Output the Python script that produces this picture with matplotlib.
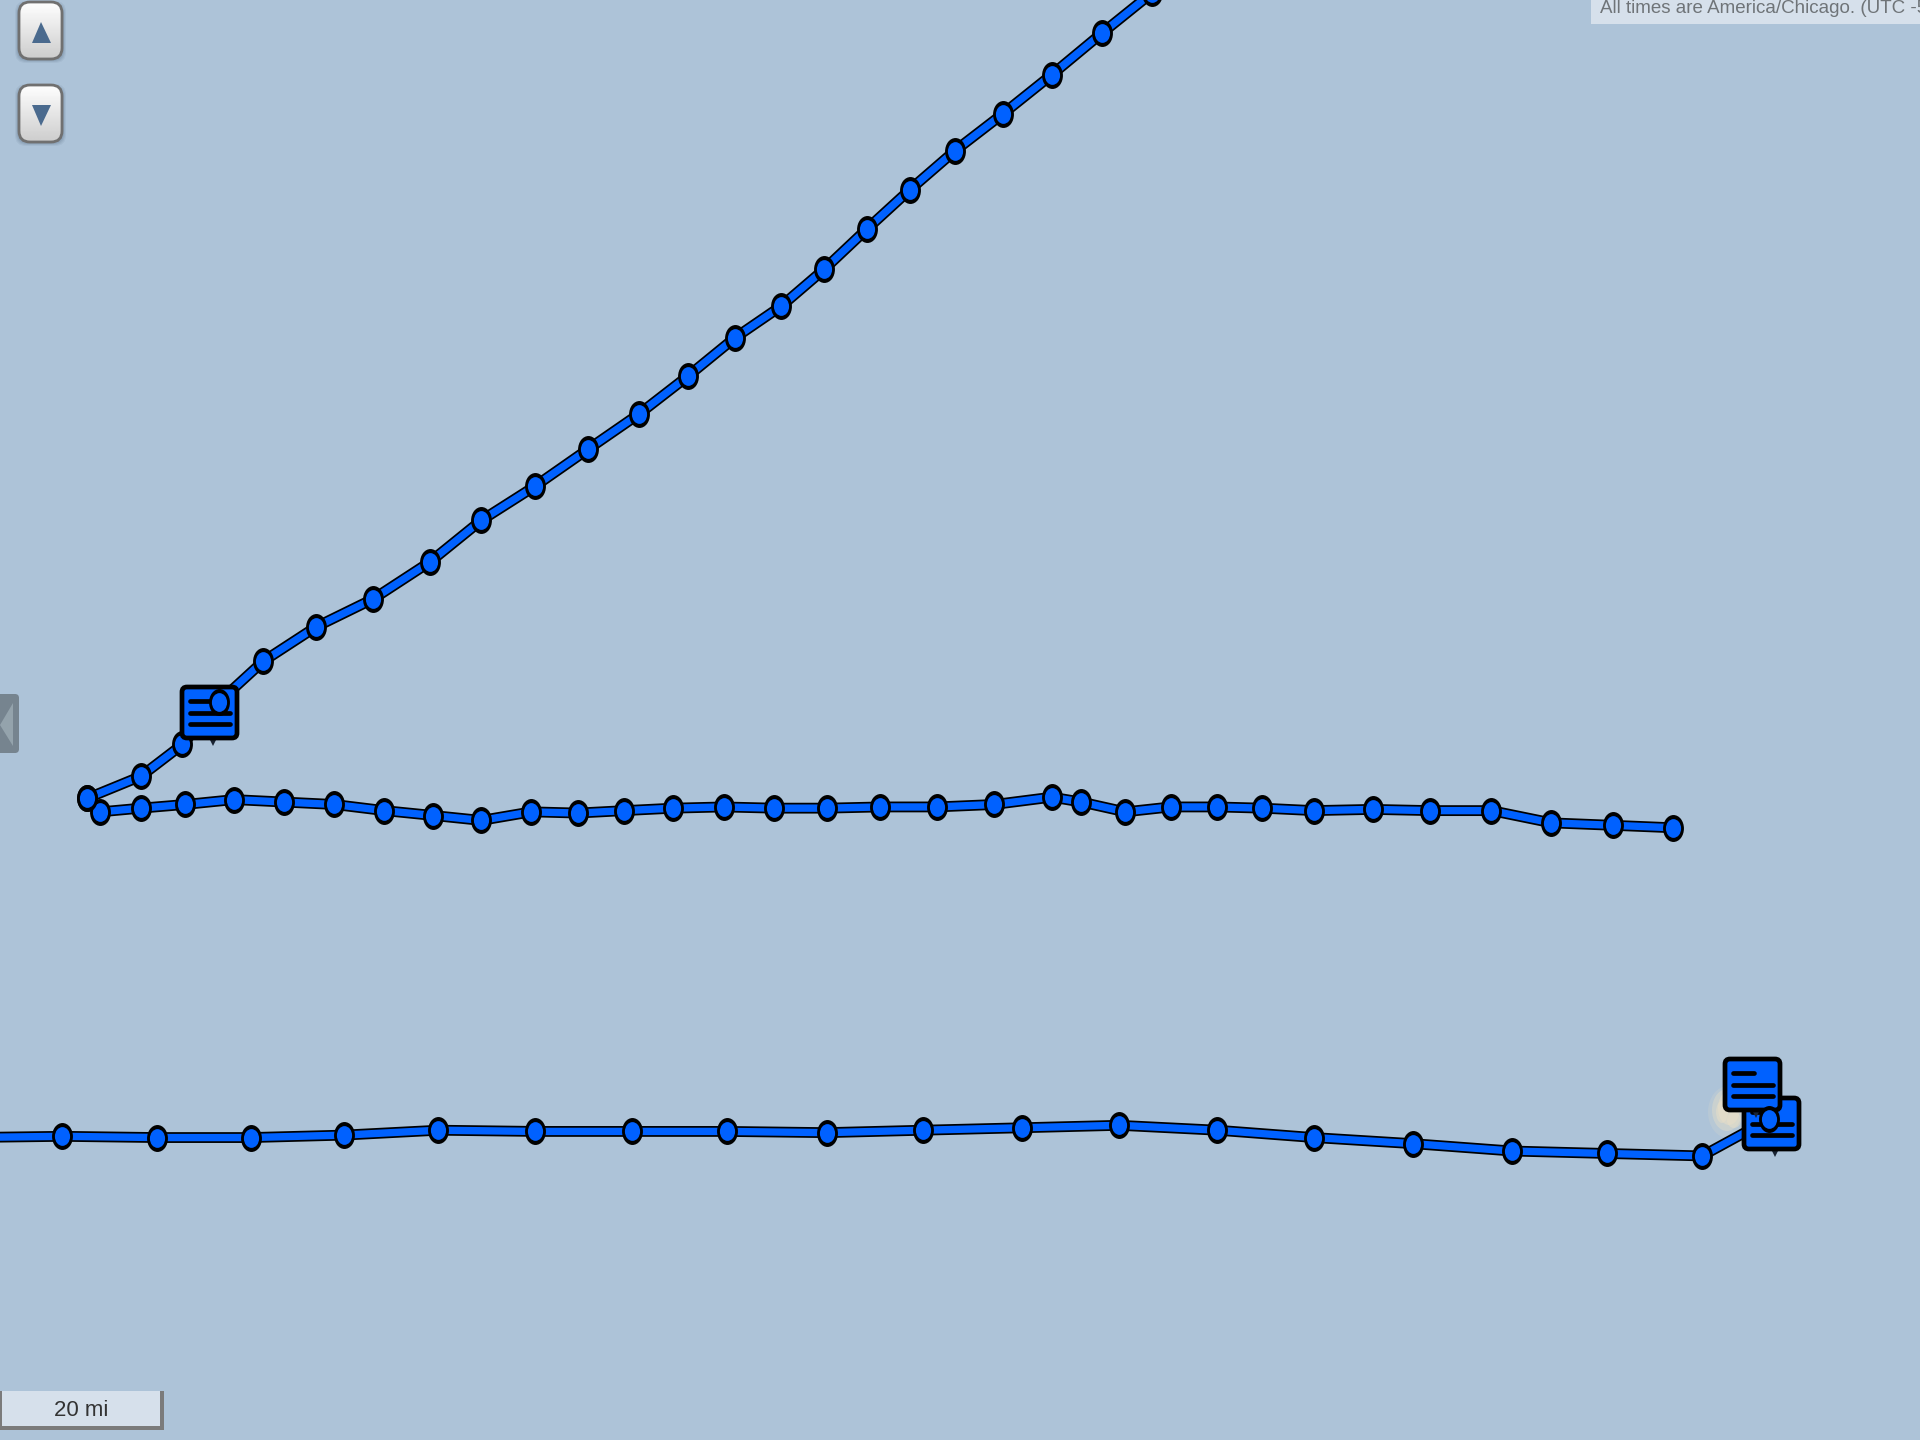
import numpy as np
import matplotlib
matplotlib.use("Agg")
import matplotlib.pyplot as plt
from matplotlib.patches import FancyBboxPatch, Polygon, Rectangle, Ellipse
from matplotlib.path import Path
from matplotlib.transforms import Affine2D

plt.rcParams['font.family'] = ['Liberation Sans', 'DejaVu Sans']

# Track positions (map units)
north_x = [71,115,149,179,215,258,305,351,393,437,480,522,562,600,638,673,708,743,780,819,859,900,941]
north_y = [652,634,608,573,540,512,489,459,425,397,367,338,307,276,250,220,187,155,123,93,61,27,-6]

middle_x = [82,115,151,191,232,273,314,354,393,434,472,510,550,591,632,675,719,765,812,859,883,919,956,994,1031,1073,1121,1168,1218,1267,1317,1366]
middle_y = [663,660,657,653,655,657,662,666,670,663,664,662,660,659,660,660,659,659,657,651,655,663,659,659,660,662,661,662,662,672,674,676]

south_x = [-27,51,128,205,281,358,437,516,594,675,754,835,914,994,1073,1154,1235,1312,1390,1445]
south_y = [929,928,929,929,927,923,924,924,924,925,923,921,919,923,929,934,940,942,944,914]

time_note = "All times are America/Chicago. (UTC -5:00)"
scale_label = "20 mi"

BG = "#ADC3D8"
BLUE = "#0061FF"
U = 1568 / 1920  # screen pixels to map units

fig = plt.figure(figsize=(19.2, 14.4), dpi=100, facecolor=BG)
ax = fig.add_axes([0, 0, 1, 1])
ax.axis("off")

# small island under the last marker
for (cx, cy, w, h, a) in [(1728, 1112, 40, 52, .18), (1727, 1110, 30, 42, .4), (1729, 1108, 22, 34, .55),
                          (1722, 1112, 12, 22, .5), (1734, 1120, 14, 16, .5)]:
    ax.add_patch(Ellipse((cx*U, cy*U), w*U, h*U, fc="#E8DFC8", ec="none", alpha=a, zorder=1))

outer = Path.unit_circle().transformed(Affine2D().scale(0.775, 1.0))
inner = Path.unit_circle().transformed(Affine2D().scale(0.81, 1.0))

def track(xs, ys, z):
    ax.plot(xs, ys, color="black", lw=7.8, solid_joinstyle="round", zorder=z)
    ax.plot(xs, ys, color=BLUE, lw=5.3, solid_joinstyle="round", zorder=z + 0.1)

def dots(xs, ys, z):
    ax.plot(xs, ys, ls="none", marker=outer, ms=19.4, mfc="black", mec="none", zorder=z)
    ax.plot(xs, ys, ls="none", marker=inner, ms=13.5, mfc=BLUE, mec="none", zorder=z)

def bubble(x0, y0, z):
    w, h = 59, 55
    ax.add_patch(Polygon([[(x0+29)*U, (y0+h-2)*U], [(x0+37)*U, (y0+h-2)*U], [(x0+33)*U, (y0+h+6)*U]],
                         fc="#1a2433", ec="none", zorder=z))
    ax.add_patch(FancyBboxPatch(((x0+6)*U, (y0+6)*U), (w-12)*U, (h-12)*U,
                                boxstyle=f"round,pad={4*U},rounding_size={5*U}",
                                fc=BLUE, ec="black", lw=3.4, zorder=z + 0.1))
    for yy, x2 in [(16, 31), (28, 50), (39, 50)]:
        ax.plot([(x0+10)*U, (x0+x2)*U], [(y0+yy)*U, (y0+yy)*U], color="black", lw=3.4,
                solid_capstyle="round", zorder=z + 0.2)

track(north_x, north_y, 2)
track(middle_x, middle_y, 2)
track(south_x, south_y, 2)
dots(north_x[:3], north_y[:3], 3)
dots(middle_x, middle_y, 3.1)
dots(north_x[:1], north_y[:1], 3.2)
dots(south_x[:-1], south_y[:-1], 3)
bubble(180, 685, 4)
bubble(1742, 1096, 4)
bubble(1723, 1057, 4.5)
dots(north_x[3:], north_y[3:], 5)
dots(south_x[-1:], south_y[-1:], 5)

# map buttons
grad = np.linspace(1, 0.80, 64).reshape(-1, 1)
for top in (1, 84):
    for grow, alpha in [(4, .10), (3, .14), (2, .18), (1, .24)]:
        ax.add_patch(FancyBboxPatch((21*U, (top+6)*U), 39*U, 50*U,
                                    boxstyle=f"round,pad={(2+grow)*U},rounding_size={11*U}",
                                    fc="#5d7188", ec="none", alpha=alpha, zorder=6))
    box = FancyBboxPatch((21*U, (top+3)*U), 39*U, 53*U, boxstyle=f"round,pad={2*U},rounding_size={11*U}",
                         fc="#eeeeee", ec="none", zorder=7)
    ax.add_patch(box)
    im = ax.imshow(grad, cmap="gray", vmin=0, vmax=1, extent=(17*U, 64*U, (top+59)*U, top*U),
                   aspect="auto", zorder=7.1)
    im.set_clip_path(box)
    ax.add_patch(FancyBboxPatch((21*U, (top+3)*U), 39*U, 53*U, boxstyle=f"round,pad={2*U},rounding_size={11*U}",
                                fc="none", ec="#707070", lw=2.0, zorder=7.2))
ax.add_patch(Polygon([[41*U, 22*U], [32*U, 43*U], [51*U, 43*U]], fc="#4A6A8E", ec="none", zorder=8))
ax.add_patch(Polygon([[32*U, 105*U], [51*U, 105*U], [41*U, 126*U]], fc="#4A6A8E", ec="none", zorder=8))
ax.set_xlim(0, 1568)
ax.set_ylim(1176, 0)

# collapse handle
ax.add_patch(FancyBboxPatch((-8*U, 696*U), 25*U, 55*U, boxstyle=f"round,pad={2*U},rounding_size={4*U}",
                            fc="#76848F", ec="none", zorder=6))
ax.add_patch(Polygon([[0, 725*U], [13*U, 703*U], [13*U, 746*U]], fc="#94A3AC", ec="none", zorder=7))

# time note
ax.add_patch(Rectangle((1591*U, -2), 340*U, 24*U + 2, fc="#D6E0EB", ec="none", zorder=6))
ax.text(1600*U, 8.5*U, time_note, fontsize=13.5, color="#6F7478", ha="left", va="center", zorder=7, clip_on=True)

# scale bar
ax.add_patch(Rectangle((0, 1391*U), 164*U, 39*U, fc="#7B7B7B", ec="none", zorder=6))
ax.add_patch(Rectangle((2*U, 1391*U), 158*U, 35*U, fc="#D6E0EB", ec="none", zorder=7))
ax.text(81*U, 1411*U, scale_label, fontsize=16, color="#333333", ha="center", va="center", zorder=8)

fig.savefig("out.png", dpi=100, facecolor=BG)
